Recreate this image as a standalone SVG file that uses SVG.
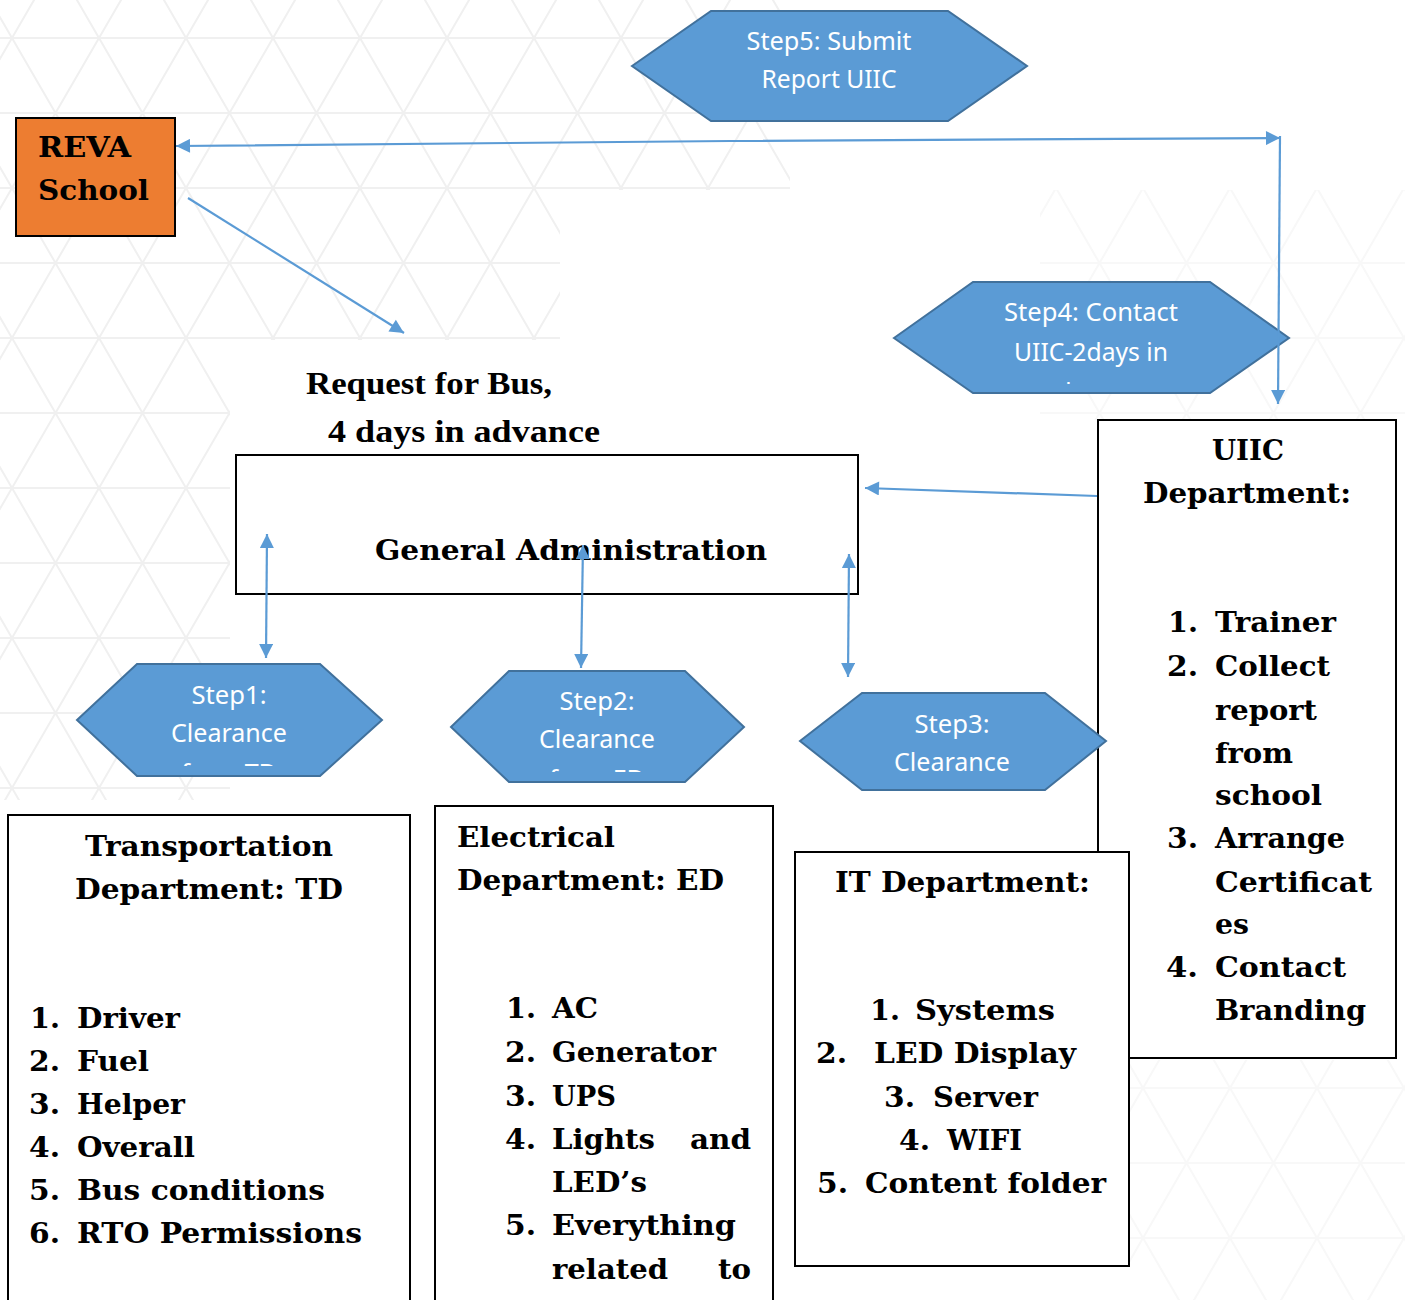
<svg xmlns="http://www.w3.org/2000/svg" width="1405" height="1300" viewBox="0 0 1405 1300">
<style>
.bg{fill:#ffffff}
.hex{fill:#5B9BD5;stroke:#41719C;stroke-width:2}
.box{fill:#ffffff;stroke:#000000;stroke-width:2}
.ht{font-family:"Noto Sans","Open Sans",sans-serif;font-size:25px;fill:#ffffff;text-anchor:middle}
.bt{font-family:"DejaVu Serif","Liberation Serif",serif;font-weight:bold;font-size:28px;fill:#000000}
.rt{font-family:"Liberation Serif","DejaVu Serif",serif;font-weight:bold;font-size:31px;fill:#000000}
.conn{stroke:#5B9BD5;stroke-width:2.2;fill:none}
</style>
<defs>
<marker id="ah" viewBox="0 0 10 10" refX="10" refY="5" markerWidth="16" markerHeight="14" markerUnits="userSpaceOnUse" orient="auto-start-reverse">
<path d="M0,0 L10,5 L0,10 z" fill="#5B9BD5"/>
</marker>
<pattern id="lat" patternUnits="userSpaceOnUse" x="12" y="38" width="87" height="150">
<path d="M0,0H87 M0,75H87 M0,150H87 M0,0L87,150 M87,0L0,150" stroke="#f0f0f0" stroke-width="2" fill="none"/>
</pattern>
<clipPath id="c1"><rect x="70" y="655" width="320" height="111"/></clipPath>
<clipPath id="c2"><rect x="445" y="660" width="310" height="112"/></clipPath>
<clipPath id="c4"><rect x="890" y="275" width="410" height="109"/></clipPath>
</defs>
<rect class="bg" x="0" y="0" width="1405" height="1300"/>
<g id="background">
<polygon points="0,0 790,0 790,190 560,190 560,340 0,340" fill="url(#lat)"/>
<rect x="0" y="340" width="230" height="460" fill="url(#lat)"/>
<rect x="1040" y="190" width="365" height="230" fill="url(#lat)" opacity="0.5"/>
<rect x="1130" y="1060" width="275" height="240" fill="url(#lat)" opacity="0.5"/>
</g>
<g id="reva">
<rect x="16" y="118" width="159" height="118" fill="#ED7D31" stroke="#000" stroke-width="2"/>
<text class="bt" x="38" y="157" textLength="93" lengthAdjust="spacingAndGlyphs">REVA</text>
<text class="bt" x="38" y="200" textLength="111" lengthAdjust="spacingAndGlyphs">School</text>
</g>
<g id="step5">
<polygon class="hex" points="632,66 711,11 948,11 1027,66 948,121 711,121"/>
<text class="ht" x="829" y="50" textLength="165" lengthAdjust="spacingAndGlyphs">Step5: Submit</text>
<text class="ht" x="829" y="88" textLength="135" lengthAdjust="spacingAndGlyphs">Report UIIC</text>
</g>
<g id="request-label">
<text class="rt" x="306" y="394" textLength="246" lengthAdjust="spacingAndGlyphs">Request for Bus,</text>
<text class="rt" x="328" y="442" textLength="272" lengthAdjust="spacingAndGlyphs">4 days in advance</text>
</g>
<g id="general-admin">
<rect class="box" x="236" y="455" width="622" height="139"/>
<text class="bt" x="375" y="560" textLength="392" lengthAdjust="spacingAndGlyphs">General Administration</text>
</g>
<g id="step4">
<polygon class="hex" points="894,338 973,282 1210,282 1289,338 1210,393 973,393"/>
<g clip-path="url(#c4)">
<text class="ht" x="1091" y="321" textLength="174" lengthAdjust="spacingAndGlyphs">Step4: Contact</text>
<text class="ht" x="1091" y="361" textLength="154" lengthAdjust="spacingAndGlyphs">UIIC-2days in</text>
<text class="ht" x="1091" y="401">advance</text>
</g>
</g>
<g id="uiic">
<rect class="box" x="1098" y="420" width="298" height="638"/>
<text class="bt" x="1212" y="460" textLength="72" lengthAdjust="spacingAndGlyphs">UIIC</text>
<text class="bt" x="1143" y="503" textLength="208" lengthAdjust="spacingAndGlyphs">Department:</text>
<text class="bt" x="1168" y="632" textLength="30" lengthAdjust="spacingAndGlyphs">1.</text>
<text class="bt" x="1215" y="632" textLength="121" lengthAdjust="spacingAndGlyphs">Trainer</text>
<text class="bt" x="1167" y="676" textLength="31" lengthAdjust="spacingAndGlyphs">2.</text>
<text class="bt" x="1215" y="676" textLength="115" lengthAdjust="spacingAndGlyphs">Collect</text>
<text class="bt" x="1215" y="720" textLength="102" lengthAdjust="spacingAndGlyphs">report</text>
<text class="bt" x="1215" y="763" textLength="78" lengthAdjust="spacingAndGlyphs">from</text>
<text class="bt" x="1215" y="805" textLength="107" lengthAdjust="spacingAndGlyphs">school</text>
<text class="bt" x="1167" y="848" textLength="31" lengthAdjust="spacingAndGlyphs">3.</text>
<text class="bt" x="1215" y="848" textLength="130" lengthAdjust="spacingAndGlyphs">Arrange</text>
<text class="bt" x="1215" y="892" textLength="157" lengthAdjust="spacingAndGlyphs">Certificat</text>
<text class="bt" x="1215" y="934" textLength="34" lengthAdjust="spacingAndGlyphs">es</text>
<text class="bt" x="1166" y="977" textLength="32" lengthAdjust="spacingAndGlyphs">4.</text>
<text class="bt" x="1215" y="977" textLength="131" lengthAdjust="spacingAndGlyphs">Contact</text>
<text class="bt" x="1215" y="1020" textLength="151" lengthAdjust="spacingAndGlyphs">Branding</text>
</g>
<g id="step1">
<polygon class="hex" points="77,720 137,664 320,664 382,720 320,776 137,776"/>
<g clip-path="url(#c1)">
<text class="ht" x="229" y="704" textLength="75" lengthAdjust="spacingAndGlyphs">Step1:</text>
<text class="ht" x="229" y="742" textLength="116" lengthAdjust="spacingAndGlyphs">Clearance</text>
<text class="ht" x="229" y="782">from TD</text>
</g>
</g>
<g id="step2">
<polygon class="hex" points="451,727 509,671 685,671 744,727 685,782 509,782"/>
<g clip-path="url(#c2)">
<text class="ht" x="597" y="710" textLength="75" lengthAdjust="spacingAndGlyphs">Step2:</text>
<text class="ht" x="597" y="748" textLength="116" lengthAdjust="spacingAndGlyphs">Clearance</text>
<text class="ht" x="597" y="788">from ED</text>
</g>
</g>
<g id="transportation">
<rect class="box" x="8" y="815" width="402" height="500"/>
<text class="bt" x="85" y="856" textLength="248" lengthAdjust="spacingAndGlyphs">Transportation</text>
<text class="bt" x="75" y="899" textLength="268" lengthAdjust="spacingAndGlyphs">Department: TD</text>
<text class="bt" x="30" y="1028" textLength="30" lengthAdjust="spacingAndGlyphs">1.</text>
<text class="bt" x="77" y="1028" textLength="103" lengthAdjust="spacingAndGlyphs">Driver</text>
<text class="bt" x="29" y="1071" textLength="31" lengthAdjust="spacingAndGlyphs">2.</text>
<text class="bt" x="77" y="1071" textLength="72" lengthAdjust="spacingAndGlyphs">Fuel</text>
<text class="bt" x="29" y="1114" textLength="31" lengthAdjust="spacingAndGlyphs">3.</text>
<text class="bt" x="77" y="1114" textLength="108" lengthAdjust="spacingAndGlyphs">Helper</text>
<text class="bt" x="29" y="1157" textLength="31" lengthAdjust="spacingAndGlyphs">4.</text>
<text class="bt" x="77" y="1157" textLength="118" lengthAdjust="spacingAndGlyphs">Overall</text>
<text class="bt" x="29" y="1200" textLength="31" lengthAdjust="spacingAndGlyphs">5.</text>
<text class="bt" x="77" y="1200" textLength="248" lengthAdjust="spacingAndGlyphs">Bus conditions</text>
<text class="bt" x="29" y="1243" textLength="31" lengthAdjust="spacingAndGlyphs">6.</text>
<text class="bt" x="77" y="1243" textLength="285" lengthAdjust="spacingAndGlyphs">RTO Permissions</text>
</g>
<g id="electrical">
<rect class="box" x="435" y="806" width="338" height="510"/>
<text class="bt" x="457" y="847" textLength="158" lengthAdjust="spacingAndGlyphs">Electrical</text>
<text class="bt" x="457" y="890" textLength="267" lengthAdjust="spacingAndGlyphs">Department: ED</text>
<text class="bt" x="506" y="1018" textLength="30" lengthAdjust="spacingAndGlyphs">1.</text>
<text class="bt" x="552" y="1018" textLength="46" lengthAdjust="spacingAndGlyphs">AC</text>
<text class="bt" x="505" y="1062" textLength="31" lengthAdjust="spacingAndGlyphs">2.</text>
<text class="bt" x="552" y="1062" textLength="164" lengthAdjust="spacingAndGlyphs">Generator</text>
<text class="bt" x="505" y="1106" textLength="31" lengthAdjust="spacingAndGlyphs">3.</text>
<text class="bt" x="552" y="1106" textLength="64" lengthAdjust="spacingAndGlyphs">UPS</text>
<text class="bt" x="505" y="1149" textLength="31" lengthAdjust="spacingAndGlyphs">4.</text>
<text class="bt" x="552" y="1149" textLength="103" lengthAdjust="spacingAndGlyphs">Lights</text>
<text class="bt" x="690" y="1149" textLength="61" lengthAdjust="spacingAndGlyphs">and</text>
<text class="bt" x="552" y="1192" textLength="95" lengthAdjust="spacingAndGlyphs">LED’s</text>
<text class="bt" x="505" y="1235" textLength="31" lengthAdjust="spacingAndGlyphs">5.</text>
<text class="bt" x="552" y="1235" textLength="184" lengthAdjust="spacingAndGlyphs">Everything</text>
<text class="bt" x="552" y="1279" textLength="116" lengthAdjust="spacingAndGlyphs">related</text>
<text class="bt" x="718" y="1279" textLength="33" lengthAdjust="spacingAndGlyphs">to</text>
</g>
<g id="step3">
<polygon class="hex" points="800,741 862,693 1045,693 1106,741 1045,790 862,790"/>
<text class="ht" x="952" y="733" textLength="75" lengthAdjust="spacingAndGlyphs">Step3:</text>
<text class="ht" x="952" y="771" textLength="116" lengthAdjust="spacingAndGlyphs">Clearance</text>
</g>
<g id="it">
<rect class="box" x="795" y="852" width="334" height="414"/>
<text class="bt" x="835" y="892" textLength="255" lengthAdjust="spacingAndGlyphs">IT Department:</text>
<text class="bt" x="870" y="1020" textLength="30" lengthAdjust="spacingAndGlyphs">1.</text>
<text class="bt" x="915" y="1020" textLength="140" lengthAdjust="spacingAndGlyphs">Systems</text>
<text class="bt" x="816" y="1063" textLength="31" lengthAdjust="spacingAndGlyphs">2.</text>
<text class="bt" x="874" y="1063" textLength="202" lengthAdjust="spacingAndGlyphs">LED Display</text>
<text class="bt" x="884" y="1107" textLength="31" lengthAdjust="spacingAndGlyphs">3.</text>
<text class="bt" x="933" y="1107" textLength="105" lengthAdjust="spacingAndGlyphs">Server</text>
<text class="bt" x="899" y="1150" textLength="31" lengthAdjust="spacingAndGlyphs">4.</text>
<text class="bt" x="947" y="1150" textLength="75" lengthAdjust="spacingAndGlyphs">WIFI</text>
<text class="bt" x="817" y="1193" textLength="31" lengthAdjust="spacingAndGlyphs">5.</text>
<text class="bt" x="865" y="1193" textLength="241" lengthAdjust="spacingAndGlyphs">Content folder</text>
</g>
<g id="connectors">
<path class="conn" d="M176,146 L730,141 L1280,138" marker-start="url(#ah)" marker-end="url(#ah)"/>
<path class="conn" d="M1280,136 L1278,404" marker-end="url(#ah)"/>
<path class="conn" d="M188,198 L404,333" marker-end="url(#ah)"/>
<path class="conn" d="M1097,496 L865,488" marker-end="url(#ah)"/>
<path class="conn" d="M267,534 L266,658" marker-start="url(#ah)" marker-end="url(#ah)"/>
<path class="conn" d="M583,545 L581,668" marker-start="url(#ah)" marker-end="url(#ah)"/>
<path class="conn" d="M849,554 L848,677" marker-start="url(#ah)" marker-end="url(#ah)"/>
</g>
</svg>
